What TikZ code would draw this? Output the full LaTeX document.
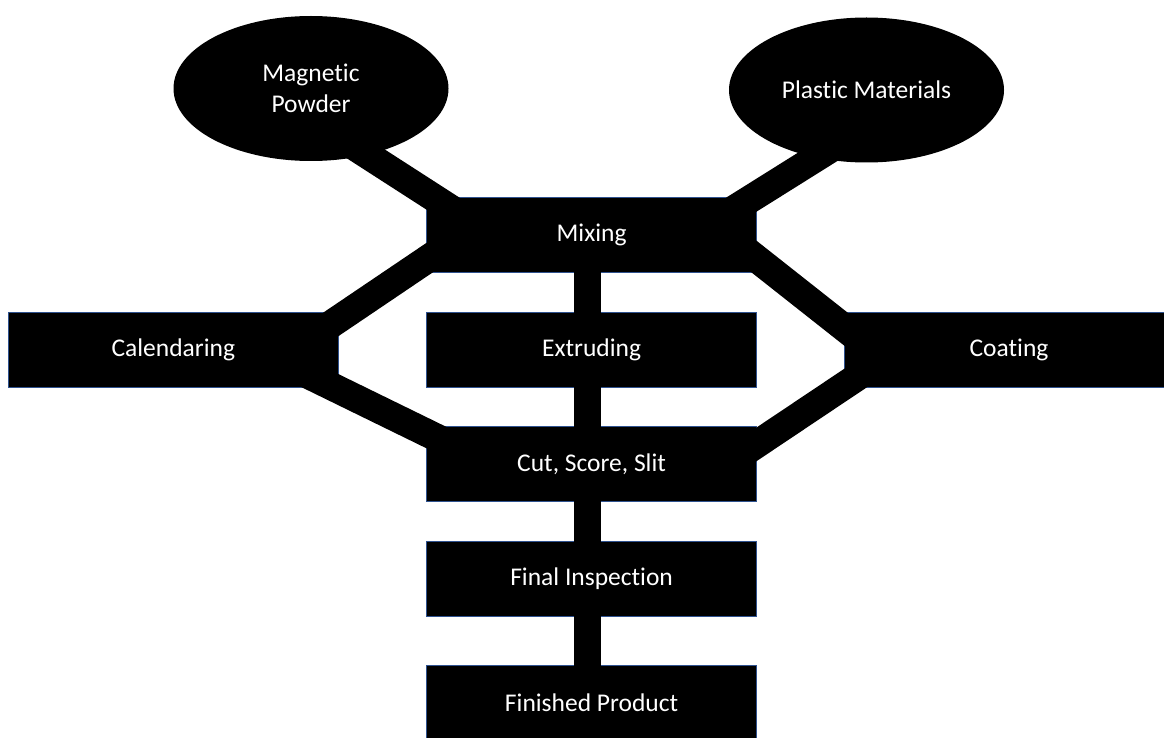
\documentclass[tikz,border=0pt]{standalone}
\usepackage{fontspec}
\setmainfont[Ligatures=NoCommon]{Carlito}
\usetikzlibrary{shapes.geometric,calc}
\definecolor{edgeblue}{RGB}{47,82,143}

\begin{document}
\begin{tikzpicture}[x=1pt,y=-1pt,font=\fontsize{25.5pt}{31pt}\selectfont]
\tikzstyle{source} = [ellipse, fill=black, text=white, align=center,
inner sep=0pt, minimum width=275pt, minimum height=145pt]
\tikzstyle{stage} = [rectangle, fill=black, draw=edgeblue, line width=0.6pt,
text=white, minimum width=330pt, minimum height=75pt, inner sep=0pt]
\tikzstyle{band} = [draw, line width=28pt]
\tikzstyle{trunk} = [draw, line width=27pt]
\useasboundingbox (0,0) rectangle (1164,738);
% raw materials
\node [source] (powder) at (311,88.5) {Magnetic\\Powder};
\node [source] (plastic) at (866.5,90) {Plastic Materials};
% forming
\node [stage] (mixing) at (591.6,235) {Mixing};
\node [stage] (calendar) at (173.3,350.2) {Calendaring};
\node [stage] (extrude) at (591.6,350.2) {Extruding};
\node [stage] (coating) at (1009,350.2) {Coating};
% finishing
\node [stage] (cutting) at (591.6,464.2) {Cut, Score, Slit};
\node [stage] (inspect) at (591.6,578.3) {Final Inspection};
\node [stage] (product) at (591.6,702.5) {Finished Product};
\path[band] ($(powder)+(34,52)$) -- ($(mixing.north west)+(30,15)$);
\path[band] ($(plastic)+(-31.5,56)$) -- ($(mixing.north east)+(-30,16.5)$);
\path[band] ($(mixing.west)+(30,4.6)$) -- ($(calendar.east)+(-30,-10.8)$);
\path[band] ($(mixing.east)+(-31.5,-1)$) -- ($(coating.west)+(33,3.2)$);
\path[band] ($(calendar.east)+(-40,20)$) -- ($(cutting.west)+(40,-12)$);
\path[band] ($(coating.west)+(43,7)$) -- ($(cutting.east)+(-42,8)$);
\foreach \a/\b in {mixing/extrude, extrude/cutting, cutting/inspect, inspect/product}
  \path[trunk] ($(\a.south)+(-4,-2)$) -- ($(\b.north)+(-4,2)$);
\end{tikzpicture}
\end{document}
